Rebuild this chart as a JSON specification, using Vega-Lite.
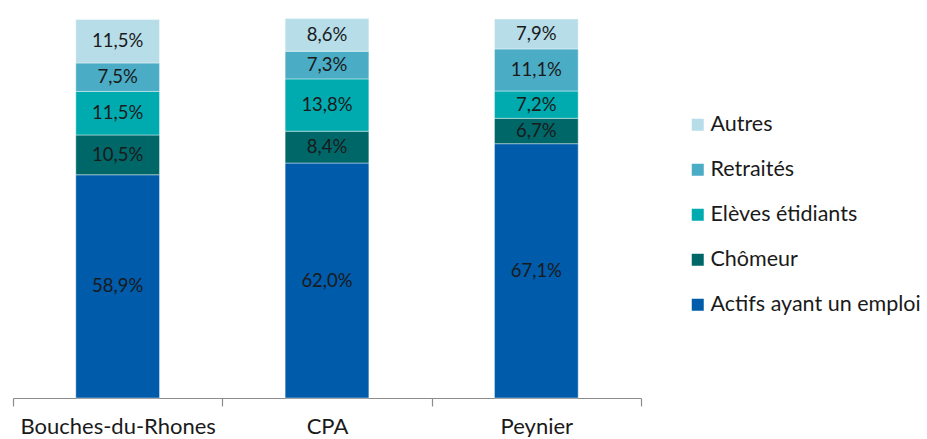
{
  "$schema": "https://vega.github.io/schema/vega-lite/v6.json",
  "width": 628,
  "height": 379,
  "padding": {"left": 12, "top": 18, "right": 0, "bottom": 0},
  "autosize": {"type": "pad"},
  "background": "#ffffff",
  "config": {
    "view": {"stroke": null},
    "font": "Lato",
    "locale": {"number": {"decimal": ",", "thousands": " ", "grouping": [3], "currency": ["", " €"]}}
  },
  "data": {
    "values": [
      {"zone": "Bouches-du-Rhones", "cat": "Actifs ayant un emploi", "ord": 1, "v": 0.589},
      {"zone": "Bouches-du-Rhones", "cat": "Chômeur", "ord": 2, "v": 0.105},
      {"zone": "Bouches-du-Rhones", "cat": "Elèves étidiants", "ord": 3, "v": 0.115},
      {"zone": "Bouches-du-Rhones", "cat": "Retraités", "ord": 4, "v": 0.075},
      {"zone": "Bouches-du-Rhones", "cat": "Autres", "ord": 5, "v": 0.115},
      {"zone": "CPA", "cat": "Actifs ayant un emploi", "ord": 1, "v": 0.620},
      {"zone": "CPA", "cat": "Chômeur", "ord": 2, "v": 0.084},
      {"zone": "CPA", "cat": "Elèves étidiants", "ord": 3, "v": 0.138},
      {"zone": "CPA", "cat": "Retraités", "ord": 4, "v": 0.073},
      {"zone": "CPA", "cat": "Autres", "ord": 5, "v": 0.086},
      {"zone": "Peynier", "cat": "Actifs ayant un emploi", "ord": 1, "v": 0.671},
      {"zone": "Peynier", "cat": "Chômeur", "ord": 2, "v": 0.067},
      {"zone": "Peynier", "cat": "Elèves étidiants", "ord": 3, "v": 0.072},
      {"zone": "Peynier", "cat": "Retraités", "ord": 4, "v": 0.111},
      {"zone": "Peynier", "cat": "Autres", "ord": 5, "v": 0.079}
    ]
  },
  "encoding": {
    "x": {
      "field": "zone", "type": "nominal", "sort": null,
      "scale": {"paddingInner": 0, "paddingOuter": 0},
      "axis": {
        "title": null, "labelAngle": 0, "tickBand": "extent", "ticks": true, "tickExtra": true,
        "domainColor": "#8c8c8c", "tickColor": "#8c8c8c", "tickSize": 8, "tickWidth": 1.2, "tickOpacity": 1,
        "labelFont": "Lato", "labelFontSize": 22, "labelColor": "#1a1a1a",
        "labelPadding": 10, "labelLimit": 400
      }
    }
  },
  "layer": [
    {
      "mark": {"type": "bar", "width": {"band": 0.4}, "stroke": "#ffffff", "strokeWidth": 0.7, "strokeOpacity": 0.6},
      "encoding": {
        "y": {"field": "v", "type": "quantitative", "stack": "zero", "scale": {"domain": [0, 1]}, "axis": null},
        "order": {"field": "ord", "type": "quantitative"},
        "color": {
          "field": "cat", "type": "nominal",
          "scale": {
            "domain": ["Autres", "Retraités", "Elèves étidiants", "Chômeur", "Actifs ayant un emploi"],
            "range": ["#b7dde8", "#4bacc6", "#00abb0", "#006769", "#005baa"]
          },
          "legend": {
            "title": null, "orient": "none", "legendX": 674, "legendY": 95,
            "symbolType": "square", "symbolSize": 144, "symbolStrokeWidth": 0,
            "labelFont": "Lato", "labelFontSize": 21.5, "labelColor": "#1a1a1a",
            "labelOffset": 2, "rowPadding": 22, "labelLimit": 300
          }
        }
      }
    },
    {
      "mark": {"type": "text", "fontSize": 18.5, "font": "Lato", "color": "#1a1a1a", "baseline": "middle"},
      "encoding": {
        "y": {"field": "v", "type": "quantitative", "stack": "zero", "bandPosition": 0.5},
        "order": {"field": "ord", "type": "quantitative"},
        "detail": {"field": "cat"},
        "text": {"field": "v", "type": "quantitative", "format": ".1%"}
      }
    }
  ]
}
